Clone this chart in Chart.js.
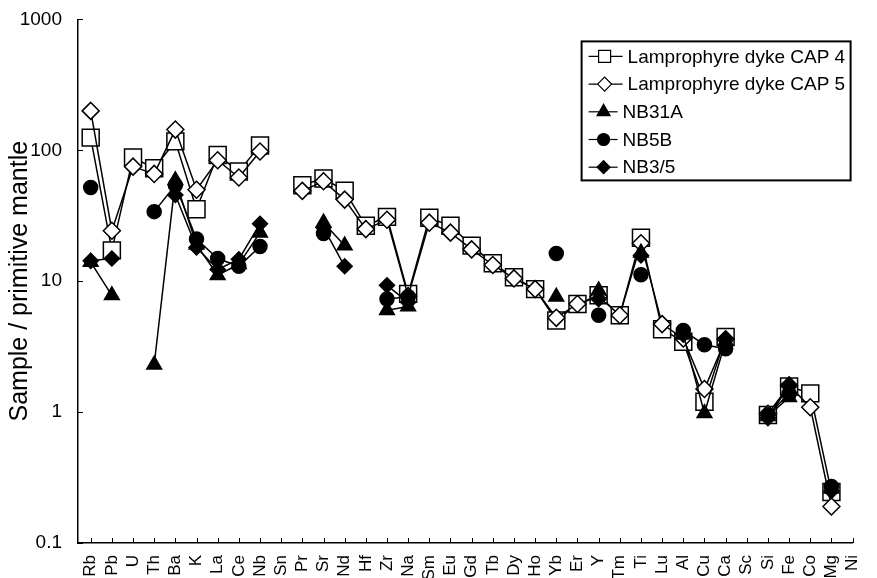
<!DOCTYPE html>
<html>
<head>
<meta charset="utf-8">
<script src="https://cdn.jsdelivr.net/npm/chart.js@4.4.1/dist/chart.umd.min.js"></script>
<style>
  html, body { margin: 0; padding: 0; background: #fff; }
  #wrap { width: 877px; height: 578px; }
</style>
</head>
<body>
<div id="wrap"><canvas id="chart" width="877" height="578"></canvas></div>
<script>
'use strict';

////////////////////////////
/// data
const elements = ['Rb', 'Pb', 'U', 'Th', 'Ba', 'K', 'La', 'Ce', 'Nb', 'Sn', 'Pr', 'Sr', 'Nd', 'Hf', 'Zr', 'Na', 'Sm', 'Eu', 'Gd', 'Tb', 'Dy', 'Ho', 'Yb', 'Er', 'Y', 'Tm', 'Ti', 'Lu', 'Al', 'Cu', 'Ca', 'Sc', 'Si', 'Fe', 'Co', 'Mg', 'Ni'];

const cap4 = [125, 17.2, 88, 73, 117, 35.5, 92, 69, 109, null, 54, 61, 49, 26.5, 31, 8.0, 30.5, 26.5, 18.7, 13.7, 10.7, 8.7, 5.0, 6.7, 7.8, 5.5, 21.5, 4.3, 3.45, 1.2, 3.75, null, 0.95, 1.57, 1.39, 0.245, null];
const cap5 = [200, 24.3, 75, 66, 144, 50, 84, 62, 98, null, 49, 58, 42, 25, 29.5, 7.7, 28, 23.5, 17.5, 13.3, 10.5, 8.7, 5.25, 6.7, 7.6, 5.5, 19.5, 4.7, 3.65, 1.5, 3.6, null, 0.97, 1.6, 1.09, 0.19, null];
const nb31a = [14, 7.8, null, 2.3, 59, 19, 11.1, 13.5, 23.5, null, null, 28, 18.7, null, 6.0, 6.4, null, null, null, null, null, null, 7.6, null, 8.5, null, 16.5, null, 3.9, 0.98, 3.5, null, 0.93, 1.3, null, 0.26, null];
const nb5b = [52, null, null, 34, 54, 21, 14.9, 13, 18.4, null, null, 23.1, null, null, 7.3, 7.6, null, null, null, null, null, null, 16.3, null, 5.5, null, 11.2, null, 4.2, 3.27, 3.05, null, 0.95, 1.38, null, 0.27, null];
const nb35 = [14.3, 14.9, null, null, 45.6, 18.1, 12.3, 14.7, 27.5, null, null, 25.7, 13, null, 9.3, 6.9, null, null, null, null, null, null, null, null, 7.3, null, 15.7, null, 3.9, null, 3.65, null, 0.9, 1.6, null, 0.25, null];

const seriesNames = ['Lamprophyre dyke CAP 4', 'Lamprophyre dyke CAP 5', 'NB31A', 'NB5B', 'NB3/5'];
const yTickValues = [0.1, 1, 10, 100, 1000];

const fontFamily = 'Arial, "Liberation Sans", Helvetica, sans-serif';

/// marker styles (chart size, legend size)
const markers = [
  { style: 'rect', fill: '#fff', r: 12, lr: 8.5 },
  { style: 'rectRot', fill: '#fff', r: 8.5, lr: 7 },
  { style: 'triangle', fill: '#000', r: 8.5, lr: 7.5 },
  { style: 'circle', fill: '#000', r: 7, lr: 6 },
  { style: 'rectRot', fill: '#000', r: 7.5, lr: 6.5 },
];

const toPoints = (arr) => arr.map((v, i) => ({ x: i, y: v }));

const makeDataset = function (name, values, i) {
  const m = markers[i];
  return {
    label: name,
    data: toPoints(values),
    borderColor: '#000',
    borderWidth: 1.5,
    backgroundColor: m.fill,
    pointStyle: m.style,
    pointRadius: m.r,
    pointBackgroundColor: m.fill,
    pointBorderColor: '#000',
    pointBorderWidth: 1.5,
    tension: 0,
    spanGaps: false,
    order: 5 - i,
  };
};

//////////////////////////////////////////////////////
/// plugins
const innerTicks = {
  id: 'innerTicks',
  afterDraw(chart) {
    const { ctx, chartArea, scales } = chart;
    ctx.save();
    ctx.strokeStyle = '#000';
    ctx.lineWidth = 1;
    ctx.beginPath();
    scales.x.ticks.forEach((t) => {
      const px = Math.round(scales.x.getPixelForValue(t.value)) + 0.5;
      ctx.moveTo(px, chartArea.bottom);
      ctx.lineTo(px, chartArea.bottom - 5);
    });
    scales.y.ticks.forEach((t) => {
      const py = Math.round(scales.y.getPixelForValue(t.value)) + 0.5;
      ctx.moveTo(chartArea.left, py);
      ctx.lineTo(chartArea.left + 5, py);
    });
    ctx.stroke();
    ctx.restore();
  },
};

const boxLegend = {
  id: 'boxLegend',
  afterDraw(chart) {
    const { ctx, chartArea } = chart;
    const right = chartArea.right - 2;
    const left = right - 269;
    const top = chartArea.top + 22;
    const rowH = 27.7;
    const height = 139;
    ctx.save();
    ctx.fillStyle = '#fff';
    ctx.fillRect(left, top, right - left, height);
    ctx.strokeStyle = '#000';
    ctx.lineWidth = 2;
    ctx.strokeRect(left, top, right - left, height);

    ctx.font = '19px ' + fontFamily;
    ctx.textBaseline = 'middle';
    chart.data.datasets.forEach((ds, i) => {
      const y = top + 15 + rowH * i;
      const big = i < 2;
      const x0 = left + 7;
      const x1 = big ? left + 41 : left + 36;
      const mx = big ? left + 23 : left + 22;
      ctx.strokeStyle = '#000';
      ctx.lineWidth = 1.2;
      ctx.beginPath();
      ctx.moveTo(x0, y);
      ctx.lineTo(x1, y);
      ctx.stroke();
      ctx.fillStyle = markers[i].fill;
      Chart.helpers.drawPoint(ctx, {
        pointStyle: markers[i].style,
        radius: markers[i].lr,
        rotation: 0,
        borderWidth: 1.2,
      }, mx, y);
      ctx.fillStyle = '#000';
      ctx.fillText(ds.label, x1 + 5, y + 1);
    });
    ctx.restore();
  },
};

//////////////////////////////////////////////////////
/// chart
const datasets = [cap4, cap5, nb31a, nb5b, nb35].map((vals, i) =>
  makeDataset(seriesNames[i], vals, i)
);

const config = {
  type: 'line',
  data: { datasets },
  options: {
    responsive: false,
    animation: false,
    devicePixelRatio: 1,
    layout: { padding: { top: 12, right: 10, left: 0, bottom: 0 } },
    plugins: {
      legend: { display: false },
      tooltip: { enabled: false },
    },
    scales: {
      x: {
        type: 'linear',
        min: -0.6,
        max: elements.length - 1,
        afterBuildTicks: (scale) => {
          scale.ticks = elements.map((e, i) => ({ value: i }));
        },
        afterFit: (scale) => {
          scale.height = 35;
        },
        ticks: {
          autoSkip: false,
          maxRotation: 90,
          minRotation: 90,
          padding: 4,
          color: '#000',
          font: { family: fontFamily, size: 17 },
          callback: (v) => elements[v],
        },
        grid: { display: false },
        border: { display: true, color: '#000', width: 1.5 },
      },
      y: {
        type: 'logarithmic',
        min: 0.1,
        max: 1000,
        afterBuildTicks: (scale) => {
          scale.ticks = yTickValues.map((v) => ({ value: v, major: true }));
        },
        afterFit: (scale) => {
          scale.width = 78;
        },
        ticks: {
          autoSkip: false,
          padding: 8,
          color: '#000',
          font: { family: fontFamily, size: 19 },
          callback: (v) => String(v),
        },
        title: {
          display: true,
          text: 'Sample / primitive mantle',
          color: '#000',
          font: { family: fontFamily, size: 25 },
          padding: { top: 5, bottom: 0 },
        },
        grid: { display: false },
        border: { display: true, color: '#000', width: 1.5 },
      },
    },
  },
  plugins: [innerTicks, boxLegend],
};

const chart = new Chart(document.getElementById('chart'), config);
</script>
</body>
</html>
